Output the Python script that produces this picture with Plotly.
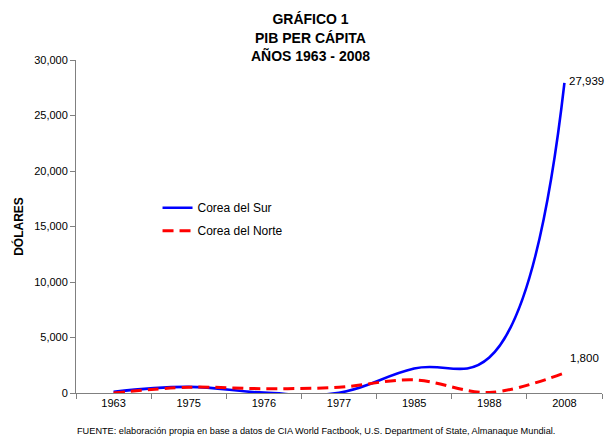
import plotly.graph_objects as go

years = ["1963", "1975", "1976", "1977", "1985", "1988", "2008"]
sur = [100, 550, 30, 20, 2200, 3200, 27939]
norte = [0, 520, 390, 520, 1180, 50, 1800]
sur_label = "27,939"
norte_label = "1,800"

FONT = "Liberation Sans, Arial"

fig = go.Figure()
fig.add_trace(go.Scatter(
    x=years, y=sur, name="Corea del Sur", mode="lines", legendgroup="a",
    line=dict(color="#0000FF", width=2.6, shape="spline", smoothing=1.2),
))
fig.add_trace(go.Scatter(
    x=years, y=norte, name="Corea del Norte", mode="lines", legendgroup="b",
    line=dict(color="#FF0000", width=3, shape="spline", smoothing=1, dash="11px,6px"),
))

last = len(years) - 1  # category index of the last year
fig.add_annotation(x=last, y=sur[-1], text=sur_label, showarrow=False,
                   xanchor="left", yanchor="middle", xshift=4, yshift=2, borderpad=0,
                   font=dict(family=FONT, size=11.5, color="#000000"))
fig.add_annotation(x=last, y=norte[-1], text=norte_label, showarrow=False,
                   xanchor="left", yanchor="middle", xshift=5, yshift=15, borderpad=0,
                   font=dict(family=FONT, size=11.5, color="#000000"))

# page body has an 8px margin, so the figure is sized/positioned to compensate
fig.update_layout(
    width=605, height=430,
    margin=dict(l=65, r=11, t=52, b=45),
    paper_bgcolor="white", plot_bgcolor="white",
    font=dict(family=FONT, size=11, color="#000000"),
    title=dict(
        text="<b>GRÁFICO 1<br>PIB PER CÁPITA<br>AÑOS 1963 - 2008</b>",
        x=0.5, xanchor="center", y=0.962, yanchor="top",
        font=dict(family=FONT, size=14, color="#000000"),
    ),
    showlegend=True,
    legend=dict(
        x=0.155, y=0.6, xanchor="left", yanchor="top",
        bgcolor="rgba(0,0,0,0)",
        font=dict(family=FONT, size=12, color="#000000"),
        tracegroupgap=4,
    ),
    xaxis=dict(
        type="category", range=[-0.5, 6.5],
        showline=True, linecolor="#808080", linewidth=1,
        ticks="outside", tickson="boundaries", ticklen=5, tickcolor="#808080",
        showgrid=False, zeroline=False,
        tickfont=dict(size=11),
    ),
    yaxis=dict(
        range=[0, 30000], dtick=5000, tickformat=",",
        showline=True, linecolor="#808080", linewidth=1,
        ticks="outside", ticklen=5, tickcolor="#808080",
        showgrid=False, zeroline=False,
        tickfont=dict(size=11),
        title=dict(text="<b>DÓLARES</b>", font=dict(size=12), standoff=7),
    ),
)

fig.add_annotation(
    text="FUENTE: elaboración propia en base a datos de CIA World Factbook, U.S. Department of State, Almanaque Mundial.",
    xref="paper", yref="paper", x=0.457, y=-0.114, xanchor="center", yanchor="middle",
    showarrow=False, font=dict(family=FONT, size=9.2, color="#000000"),
)

fig.write_html("out.html")
